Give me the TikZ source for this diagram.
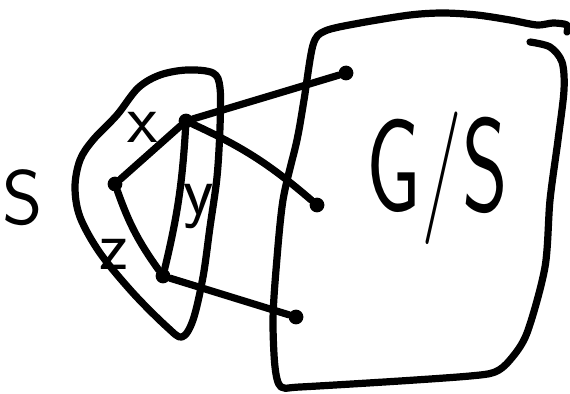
\documentclass[tikz,border=0pt]{standalone}
\begin{document}
\begin{tikzpicture}[x=0.02cm,y=-0.02cm,
  pen/.style={line width=4.1pt,line cap=round,line join=round},
  dot/.style={circle,fill=black,draw=black,line width=1pt,inner sep=0pt,minimum size=0.26cm},
  lab/.style={font=\sffamily\fontsize{40}{40}\selectfont,inner sep=0pt},
  big/.style={font=\sffamily\fontsize{62}{62}\selectfont,inner sep=0pt,transform shape,xscale=0.8,yscale=1.22}]
\useasboundingbox (0,0) rectangle (570,394);
% region S
\draw[pen] plot[smooth cycle,tension=0.55] coordinates {
  (138,88) (160,75) (187,70) (213,73) (220,88) (220,127) (217,177) (210,227)
  (203,277) (193,320) (182,337) (167,327) (133,293) (100,253) (80,217)
  (75,187) (80,160) (93,140) (117,115)};
% region G/S
\draw[pen] plot[smooth,tension=0.5] coordinates {
  (567,32) (567,25) (553,23) (537,25) (510,20) (477,15) (443,13) (410,15)
  (360,23) (325,31) (313,45) (304,100) (297,140) (283,200) (276,270) (273,320)
  (275,367) (281,387) (300,387) (400,381) (470,376) (495,372) (510,360) (527,333)
  (545,267) (550,200) (558,140) (564,90) (562,62) (550,47) (530,42)};
% vertices
\node[dot] (vx) at (186,121) {};
\node[dot] (vl) at (115,184) {};
\node[dot] (vb) at (163,276) {};
\node[dot] (r1) at (346,73) {};
\node[dot] (r2) at (317,205) {};
\node[dot] (r3) at (296,317) {};
% edges
\draw[pen] (vx) -- (r1);
\draw[pen] (vx) to[bend left=8] (r2);
\draw[pen] (vx) -- (vl);
\draw[pen] (vx) to[bend left=5] (vb);
\draw[pen] (vl) to[bend right=8] (vb);
\draw[pen] (vb) -- (r3);
% labels
\node[lab] (lx) at (143,127) {x};
\node[lab] (ly) at (199,207) {y};
\node[lab] (lz) at (114,254) {z};
\node[lab,font=\sffamily\fontsize{44}{44}\selectfont] (lS) at (23,198) {S};
\node[big] (lG) at (437,178) {G/S};
\end{tikzpicture}
\end{document}
